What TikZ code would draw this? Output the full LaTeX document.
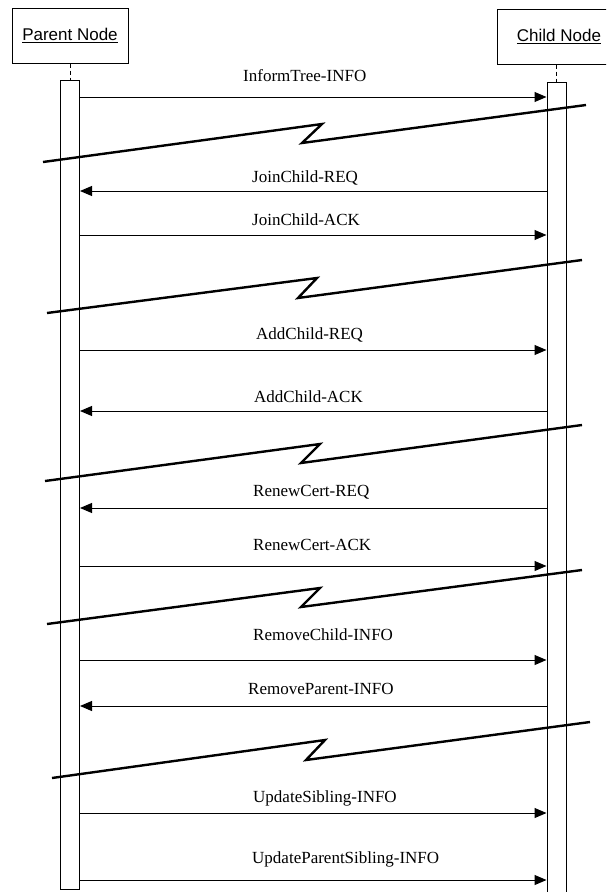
\documentclass[tikz,border=0pt]{standalone}
\usepackage{fontspec}
\setmainfont{Liberation Serif}
\newfontfamily\boxfont{Liberation Sans}
\usetikzlibrary{arrows.meta}

\tikzset{
  box/.style={draw, line width=1pt, minimum width=116pt, minimum height=55pt,
    font=\boxfont\fontsize{17}{19}\selectfont},
  bar/.style={draw, line width=1pt, minimum width=19pt, anchor=north},
  msg/.style={line width=1pt, -{Triangle[length=12pt,width=10pt]}},
  lbl/.style={anchor=base west, inner sep=0pt, font=\fontsize{17}{20}\selectfont},
  brk/.style={line width=2.4pt, line join=miter},
}

\begin{document}
\begin{tikzpicture}[x=1pt,y=-1pt]
    \clip (0,0) rectangle (606,892);

    % the two parties and their life lines
    \node[box] (parent) at (70,35.5) {\underline{Parent Node}};
    \node[box, minimum width=124pt] (child) at (559,36.5) {\underline{Child Node}};
    \node[bar, minimum height=809pt] (pbar) at (70,80) {};
    \node[bar, minimum height=820pt] (cbar) at (556.5,82) {};
    \draw[dashed, dash pattern=on 4pt off 3pt, line width=0.8pt] (parent.south) -- (pbar.north);
    \draw[dashed, dash pattern=on 4pt off 3pt, line width=0.8pt] (child.south -| cbar.north) -- (cbar.north);

    % messages
    \draw[msg] (pbar.east |- 0,97) -- (cbar.west |- 0,97);
    \node[lbl] (m1) at (243,81) {InformTree-INFO};
    \draw[msg] (cbar.west |- 0,191) -- (pbar.east |- 0,191);
    \node[lbl] (m2) at (252,182) {JoinChild-REQ};
    \draw[msg] (pbar.east |- 0,235) -- (cbar.west |- 0,235);
    \node[lbl] (m3) at (252,225) {JoinChild-ACK};
    \draw[msg] (pbar.east |- 0,350) -- (cbar.west |- 0,350);
    \node[lbl] (m4) at (256,339) {AddChild-REQ};
    \draw[msg] (cbar.west |- 0,411) -- (pbar.east |- 0,411);
    \node[lbl] (m5) at (254,402) {AddChild-ACK};
    \draw[msg] (cbar.west |- 0,508) -- (pbar.east |- 0,508);
    \node[lbl] (m6) at (253,496) {RenewCert-REQ};
    \draw[msg] (pbar.east |- 0,566) -- (cbar.west |- 0,566);
    \node[lbl] (m7) at (253,550) {RenewCert-ACK};
    \draw[msg] (pbar.east |- 0,660) -- (cbar.west |- 0,660);
    \node[lbl] (m8) at (253,640) {RemoveChild-INFO};
    \draw[msg] (cbar.west |- 0,706) -- (pbar.east |- 0,706);
    \node[lbl] (m9) at (248,694) {RemoveParent-INFO};
    \draw[msg] (pbar.east |- 0,813) -- (cbar.west |- 0,813);
    \node[lbl] (m10) at (253,802) {UpdateSibling-INFO};
    \draw[msg] (pbar.east |- 0,880) -- (cbar.west |- 0,880);
    \node[lbl] (m11) at (252,863) {UpdateParentSibling-INFO};

    % time breaks
    \draw[brk] (43,162)--(322,124)--(302,143)--(586,105);
    \draw[brk] (47,313)--(317,278)--(298,298)--(582,260);
    \draw[brk] (45,481)--(320,444)--(301,463)--(582,425);
    \draw[brk] (47,624)--(320,588)--(301,607)--(582,570);
    \draw[brk] (52,778)--(325,740)--(306,760)--(590,722);
\end{tikzpicture}
\end{document}
